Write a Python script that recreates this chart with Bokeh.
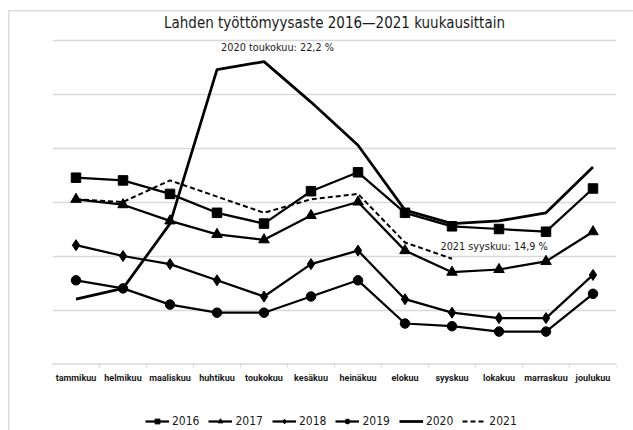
from bokeh.plotting import figure
from bokeh.models import FactorRange, Range1d, FixedTicker, Legend, LegendItem, Span, ColumnDataSource
from bokeh.transform import dodge
from bokeh.embed import file_html
from bokeh.resources import INLINE
from bokeh.core.properties import value

months = ["tammikuu", "helmikuu", "maaliskuu", "huhtikuu", "toukokuu", "kesäkuu",
          "heinäkuu", "elokuu", "syyskuu", "lokakuu", "marraskuu", "joulukuu"]
y2016 = [17.9, 17.8, 17.3, 16.6, 16.2, 17.4, 18.1, 16.6, 16.1, 16.0, 15.9, 17.5]
y2017 = [17.1, 16.9, 16.3, 15.8, 15.6, 16.5, 17.0, 15.2, 14.4, 14.5, 14.8, 15.9]
y2018 = [15.4, 15.0, 14.7, 14.1, 13.5, 14.7, 15.2, 13.4, 12.9, 12.7, 12.7, 14.3]
y2019 = [14.1, 13.8, 13.2, 12.9, 12.9, 13.5, 14.1, 12.5, 12.4, 12.2, 12.2, 13.6]
y2020 = [13.4, 13.8, 16.2, 21.9, 22.2, 20.7, 19.1, 16.7, 16.2, 16.3, 16.6, 18.3]
y2021 = [17.1, 17.0, 17.8, 17.2, 16.6, 17.1, 17.3, 15.5, 14.9]
grid_ticks = [13, 15, 17, 19, 21, 23]
axis_min = 11
title_text = "Lahden työttömyysaste 2016\u20142021 kuukausittain"

COND = "DejaVu Sans Condensed, sans-serif"
GRID = "#d9d9d9"
INK = "#1a1a1a"

W, H = 633, 430
# 27 px per unit: 23 at y=39.5, 11 at y=363.5 ; frame spans the full height
PX = 27.0
y_top = 23 + 39.5 / PX
y_bot = 11 - (H - 363.5) / PX

p = figure(width=W, height=H, x_range=FactorRange(*months, range_padding=0),
           y_range=Range1d(y_bot, y_top), output_backend="svg", toolbar_location=None,
           min_border_left=52, min_border_right=17, min_border_top=0, min_border_bottom=0)
p.border_fill_alpha = 0
p.background_fill_alpha = 0
p.styles = {
    "background-image": "linear-gradient(#dcdcdc, #dcdcdc), linear-gradient(#dcdcdc, #dcdcdc)",
    "background-size": "1.5px 100%, 100% 1.5px",
    "background-position": "8px 10px, 8px 10px",
    "background-repeat": "no-repeat, no-repeat",
}
p.outline_line_color = None
p.xaxis.visible = False
p.yaxis.visible = False
p.xgrid.grid_line_color = None
p.ygrid.ticker = FixedTicker(ticks=grid_ticks)
p.ygrid.grid_line_color = GRID
p.ygrid.grid_line_width = 1.5

# category axis line and its small boundary ticks
p.add_layout(Span(location=axis_min, dimension="width", line_color=GRID, line_width=1.5))
src_m = ColumnDataSource(dict(m=months, y0=[axis_min] * 12, y1=[axis_min - 3.5 / PX] * 12))
p.segment(x0=dodge("m", -0.5, range=p.x_range), y0="y0", x1=dodge("m", -0.5, range=p.x_range),
          y1="y1", source=src_m, line_color=GRID, line_width=1.2)
src_e = ColumnDataSource(dict(m=months[-1:], y0=[axis_min], y1=[axis_min - 3.5 / PX]))
p.segment(x0=dodge("m", 0.5, range=p.x_range), y0="y0", x1=dodge("m", 0.5, range=p.x_range),
          y1="y1", source=src_e, line_color=GRID, line_width=1.2)

# month labels
p.text(x=months, y=[axis_min] * 12, text=months, y_offset=13.5, text_align="center",
       text_baseline="middle", text_font=value("Roboto"), text_font_style="bold",
       text_font_size="9px", text_color=INK)

# title
src_t = ColumnDataSource(dict(m=[months[5]], y=[grid_ticks[-1]], t=[title_text]))
p.text(x=dodge("m", 0.5, range=p.x_range), y="y", text="t", source=src_t, y_offset=-17.5,
       text_align="center", text_baseline="middle", text_font=value(COND),
       text_font_size="15px", text_color=INK)

LW = 2.25
items = []
l = p.line(months, y2016, line_color="black", line_width=LW)
s = p.scatter(months, y2016, marker="square", size=9.5, color="black")
items.append(LegendItem(label="2016", renderers=[l, s]))
l = p.line(months, y2017, line_color="black", line_width=LW)
s = p.scatter(months, y2017, marker="triangle", size=10.5, color="black")
items.append(LegendItem(label="2017", renderers=[l, s]))
l = p.line(months, y2018, line_color="black", line_width=LW)
s = p.scatter(months, y2018, marker="diamond", size=11, color="black")
items.append(LegendItem(label="2018", renderers=[l, s]))
l = p.line(months, y2019, line_color="black", line_width=LW)
s = p.scatter(months, y2019, marker="circle", size=9.5, color="black")
items.append(LegendItem(label="2019", renderers=[l, s]))
l = p.line(months, y2020, line_color="black", line_width=2.75)
items.append(LegendItem(label="2020", renderers=[l]))
l = p.line(months[:len(y2021)], y2021, line_color="black", line_width=2, line_dash="5 3")
items.append(LegendItem(label="2021", renderers=[l]))

i20 = y2020.index(max(y2020))
t1 = f"2020 {months[i20]}: {str(y2020[i20]).replace('.', ',')} %"
p.text(x=[months[i20]], y=[y2020[i20]], text=[t1], x_offset=13.5, y_offset=-14,
       text_align="center", text_baseline="middle", text_font=value(COND),
       text_font_size="10.8px", text_color=INK)
i21 = len(y2021) - 1
t2 = f"2021 {months[i21]}: {str(y2021[i21]).replace('.', ',')} %"
p.text(x=[months[i21]], y=[y2021[i21]], text=[t2], x_offset=-11.5, y_offset=-12,
       text_align="left", text_baseline="middle", text_font=value(COND),
       text_font_size="10.8px", text_color=INK)

legend = Legend(items=items, orientation="horizontal", location=(93, 2),
                border_line_color=None, background_fill_alpha=0,
                label_text_font=COND, label_text_font_size="12px", label_text_color=INK,
                glyph_width=24, glyph_height=12, label_standoff=3, spacing=9,
                padding=0, margin=0)
p.add_layout(legend, "center")

open("out.html", "w").write(file_html(p, INLINE))
